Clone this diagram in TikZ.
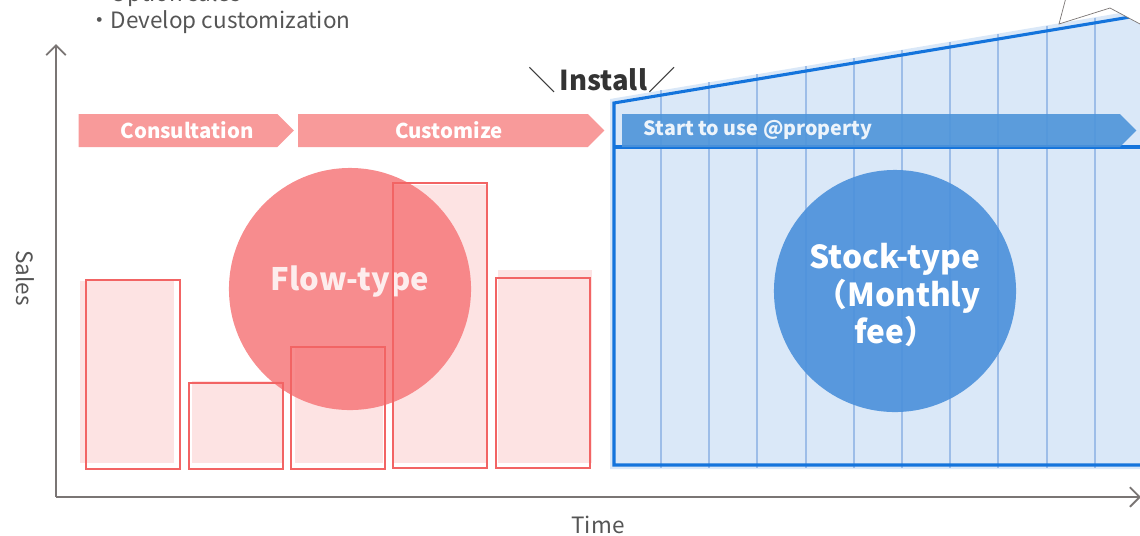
\documentclass[tikz,border=0pt]{standalone}
\usepackage{fontspec}
\setmainfont{Noto Sans CJK JP}
\usetikzlibrary{shapes.symbols,arrows.meta}

\definecolor{axisgray}{HTML}{7A7574}
\definecolor{txtgray}{HTML}{555555}
\definecolor{chevpink}{HTML}{F89A9A}
\definecolor{barline}{HTML}{F26464}
\definecolor{barfill}{HTML}{FDE3E3}
\definecolor{flowred}{HTML}{F6787A}
\definecolor{stockfill}{HTML}{DAE8F8}
\definecolor{stockline}{HTML}{1474DC}
\definecolor{stockgrid}{HTML}{9DBDE8}
\definecolor{chevblue}{HTML}{4E94DA}
\definecolor{stockblue}{HTML}{4A90DB}

\tikzset{
  axis/.style={draw=axisgray,line width=1.5pt,-{Straight Barb[length=7pt,width=14pt,line width=1.3pt]}},
  plain/.style={text=txtgray,font=\fontsize{16pt}{19pt}\selectfont,inner sep=0pt},
  chev/.style={signal,signal to=east,signal pointer angle=90,inner sep=0pt,
    minimum height=0.825cm,text=white,font=\bfseries\fontsize{14.5pt}{16pt}\selectfont},
  bar/.style={draw=barline,line width=2.1pt},
  bubble/.style={circle,inner sep=0pt,minimum size=6.05cm,text=white,
    font=\bfseries\fontsize{22.5pt}{27pt}\selectfont,align=center}
}

\begin{document}
\begin{tikzpicture}[x=0.025cm,y=-0.025cm]
\useasboundingbox (0,0) rectangle (1140,535);
\clip (0,0) rectangle (1140,535);

% stock area
\fill[stockfill] (610,99) -- (1150,8) -- (1150,469) -- (610,469) -- cycle;
\foreach \x in {661,709,757,806,854,902,950,998,1047,1095}
  \draw[stockgrid,line width=0.9pt] (\x,{98-0.1673*(\x-614)}) -- (\x,468);
\draw[stockline,line width=2.2pt] (1150,13.7) -- (614,103) -- (614,465) -- (1150,465);
\draw[stockline,line width=2.2pt] (614,147) -- (1150,147);

% phases
\node[chev,fill=chevpink,minimum width=5.375cm] (consult) at (178,130.5) {\hspace*{12.8pt}Consultation};
\node[chev,fill=chevpink,minimum width=7.65cm] (custom) at (443,130.5) {\hspace*{8.5pt}Customize};
\node[chev,fill=chevblue,fill opacity=0.9,minimum width=12.85cm] (start) at (871,130.5) {};
\node[anchor=west,text=white!90!chevblue,font=\fontsize{14pt}{16pt}\selectfont\bfseries] (startlbl) at (639,130.5) {Start to use @property};

% flow bars
\fill[barfill] (80,281) rectangle (174,463);
\fill[barfill] (192,381) rectangle (282,463);
\fill[barfill] (295,348) rectangle (383,463);
\fill[barfill] (393,185) rectangle (486,463);
\fill[barfill] (498,270) rectangle (592,463);

\node[bubble,fill=flowred,opacity=0.85,font=\bfseries\fontsize{22pt}{26pt}\selectfont] (flow) at (350,289) {\raisebox{15pt}{Flow-type}};

\draw[bar] (86,280) rectangle (180,469);
\draw[bar] (189,383) rectangle (283,469);
\draw[bar] (291,347) rectangle (385,469);
\draw[bar] (393,183) rectangle (487,468);
\draw[bar] (496,278) rectangle (590,468);

\node[bubble,fill=stockblue,opacity=0.9] (stock) at (895,291) {};
\node[bubble,minimum size=0pt] (stocklbl) at (895,295) {Stock-type\\\hspace*{0.2em}（Monthly\\fee）};

% callout edge
\filldraw[fill=white,draw=axisgray,line width=0.5pt] (1068,-10) -- (1059,24) -- (1110,8) -- (1170,40) -- (1170,-10);

% axes
\draw[axis] (56,497) -- (56,44);
\draw[axis] (56,497) -- (1141,497);
\node[plain,rotate=-90] (sales) at (25,278) {Sales};
\node[plain] (time) at (598,525) {Time};

% notes
\node[plain,anchor=west] (opt) at (88,-5) {・Option sales};
\node[plain,anchor=west] (dev) at (88,22) {・Develop customization};
\node[inner sep=0pt,text=black!80,font=\fontsize{19.5pt}{24pt}\selectfont] (install) at (602,80) {＼\kern3pt\textbf{Install}\kern1pt／};
\end{tikzpicture}
\end{document}
